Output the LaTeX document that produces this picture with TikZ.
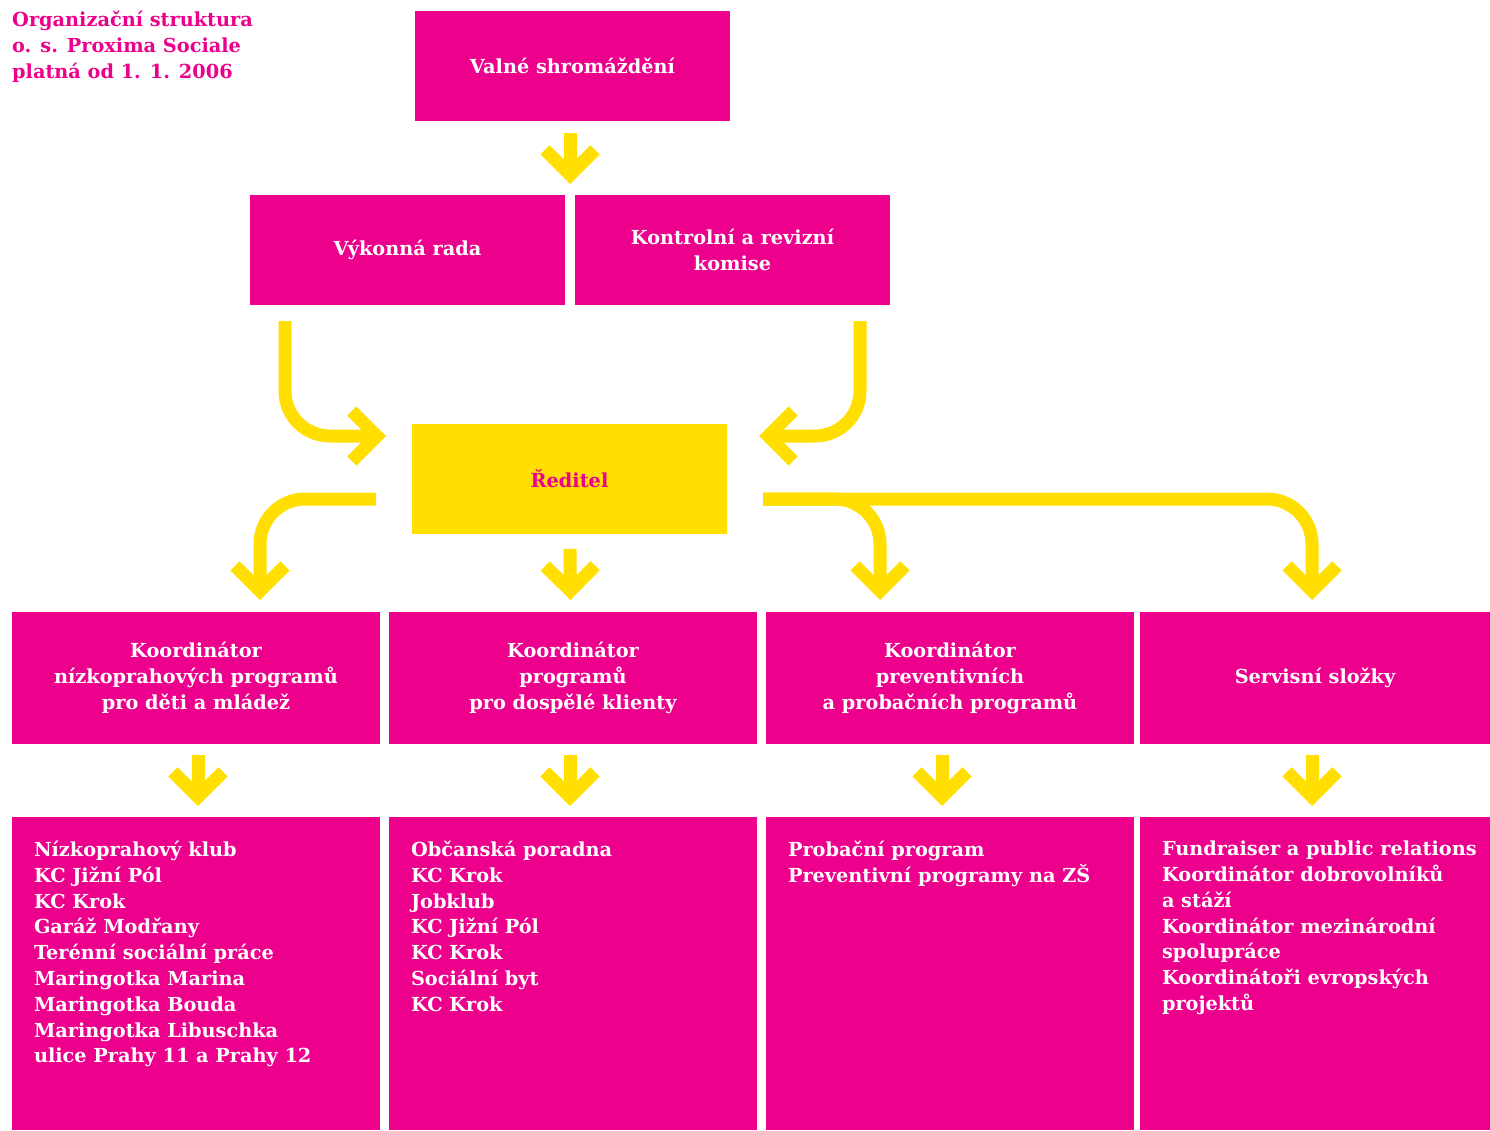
\documentclass[tikz,border=0pt]{standalone}
\usepackage{fontspec}
\setmainfont{DejaVu Serif}
\usetikzlibrary{arrows.meta,calc}
\definecolor{mag}{HTML}{EC008C}
\definecolor{yel}{HTML}{FFDE00}
\begin{document}
\begin{tikzpicture}[x=1pt,y=-1pt,
  txt/.style={font=\bfseries\fontsize{19.3}{25.8}\selectfont},
  box/.style={txt,fill=mag,text=white,inner sep=0pt,outer sep=0pt,anchor=north west,align=center},
  ybox/.style={txt,fill=yel,text=mag,inner sep=0pt,outer sep=0pt,anchor=north west,align=center},
  conn/.style={draw=yel,line width=13pt,line cap=butt,line join=miter,rounded corners=45pt,
    -{Straight Barb[length=25pt,width=50pt,line width=13pt,line join=miter,line cap=butt]}}
]
\useasboundingbox (0,0) rectangle (1490,1130);
% title
\node[txt,text=mag,anchor=north west,align=left,inner sep=0pt] (title) at (12,11)
  {Organizační struktura\\o. s. Proxima Sociale\\platná od 1. 1. 2006};
% top levels
\node[box,minimum width=315pt,minimum height=110pt] (vs) at (415,11) {Valné shromáždění};
\node[box,minimum width=315pt,minimum height=110pt] (vr) at (250,195) {Výkonná rada};
\node[box,minimum width=315pt,minimum height=110pt] (kr) at (575,195) {Kontrolní a revizní\\komise};
\node[ybox,minimum width=315pt,minimum height=110pt] (red) at (412,424) {Ředitel};
% coordinators
\node[box,minimum width=368pt,minimum height=132pt] (k1) at (12,612) {Koordinátor\\nízkoprahových programů\\pro děti a mládež};
\node[box,minimum width=368pt,minimum height=132pt] (k2) at (389,612) {Koordinátor\\programů\\pro dospělé klienty};
\node[box,minimum width=368pt,minimum height=132pt] (k3) at (766,612) {Koordinátor\\preventivních\\a probačních programů};
\node[box,minimum width=350pt,minimum height=132pt] (k4) at (1140,612) {Servisní složky};
% lists
\newcommand{\listbox}[2]{\parbox[b][313pt][t]{#1}{\vspace*{24pt}\raggedright\leftskip=22pt #2\par}}
\node[box,align=left] (l1) at (12,817) {\listbox{368pt}{Nízkoprahový klub\\KC Jižní Pól\\KC Krok\\Garáž Modřany\\Terénní sociální práce\\Maringotka Marina\\Maringotka Bouda\\Maringotka Libuschka\\ulice Prahy 11 a Prahy 12}};
\node[box,align=left] (l2) at (389,817) {\listbox{368pt}{Občanská poradna\\KC Krok\\Jobklub\\KC Jižní Pól\\KC Krok\\Sociální byt\\KC Krok}};
\node[box,align=left] (l3) at (766,817) {\listbox{368pt}{Probační program\\Preventivní programy na ZŠ}};
\node[box,align=left] (l4) at (1140,817) {\listbox{350pt}{Fundraiser a public relations\\Koordinátor dobrovolníků\\a stáží\\Koordinátor mezinárodní\\spolupráce\\Koordinátoři evropských\\projektů}};
% connectors
\draw[conn] ($(vs.south)+(-2.5,12)$) -- ($(vr.north east)!0.5!(kr.north west)+(0,-11)$);
\draw[conn] ($(vr.south west)+(35,16)$) |- ($(red.west)+(-26,-43)$);
\draw[conn] ($(kr.south east)+(-30,16)$) |- ($(red.east)+(32,-43)$);
\draw[conn] ($(red.west)+(-36,20)$) -| ($(k1.north west)+(248,-12)$);
\draw[conn] ($(red.south)+(0.5,15)$) -- ($(k2.north)+(-2.5,-12)$);
\draw[conn] ($(red.east)+(36,20)$) -| ($(k3.north west)+(114,-12)$);
\draw[conn] ($(red.east)+(36,20)$) -| ($(k4.north west)+(172,-12)$);
\draw[conn] ($(k1.south west)+(186,11)$) -- ($(l1.north west)+(186,-11)$);
\draw[conn] ($(k2.south west)+(181,11)$) -- ($(l2.north west)+(181,-11)$);
\draw[conn] ($(k3.south west)+(176,11)$) -- ($(l3.north west)+(176,-11)$);
\draw[conn] ($(k4.south west)+(172,11)$) -- ($(l4.north west)+(172,-11)$);
\end{tikzpicture}
\end{document}
